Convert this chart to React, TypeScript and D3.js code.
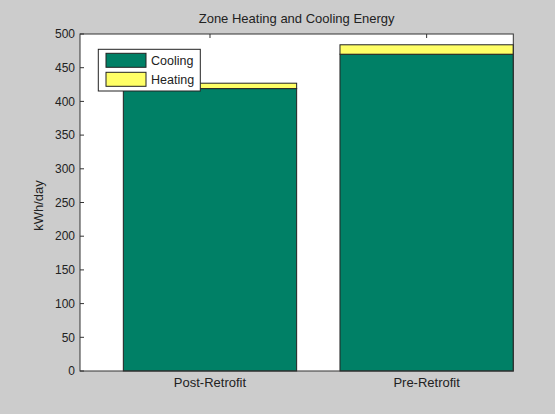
import React from "react";
import * as d3 from "d3";

const categories = ["Post-Retrofit", "Pre-Retrofit"];
const cooling = [419, 470];
const heating = [8, 14];
const seriesNames = ["Cooling", "Heating"];
const yTicks = [0, 50, 100, 150, 200, 250, 300, 350, 400, 450, 500];

const W = 555, H = 414;
const ml = 80, mr = 513.3, mt = 34, mb = 371;
const colors = ["#008066", "#ffff66"];
const font = "'Liberation Sans', Arial, sans-serif";

export default function App() {
  const x = d3.scaleLinear().domain([0.4, 2.4]).range([ml, mr]);
  const y = d3.scaleLinear().domain([0, 500]).range([mb, mt]);
  const stackData = categories.map((c, i) => ({ cat: c, Cooling: cooling[i], Heating: heating[i], idx: i + 1 }));
  const stack = d3.stack<any>().keys(seriesNames)(stackData);
  const bw = 0.8;
  const tickLen = 4;
  return (
    <svg width={W} height={H} style={{ position: "absolute", left: 0, top: 0 }} fontFamily={font}>
      <rect x={0} y={0} width={W} height={H} fill="#cccccc" />
      <rect x={ml} y={mt} width={mr - ml} height={mb - mt} fill="#ffffff" />
      {categories.map((c, i) => (
        <line key={c} x1={x(i + 1)} x2={x(i + 1)} y1={mt} y2={mt + tickLen} stroke="#333" />
      ))}
      {stack.map((s, si) =>
        s.map((d, i) => (
          <rect
            key={`${si}-${i}`}
            x={x(d.data.idx - bw / 2)}
            y={y(d[1])}
            width={x(d.data.idx + bw / 2) - x(d.data.idx - bw / 2)}
            height={y(d[0]) - y(d[1])}
            fill={colors[si]}
            stroke="#222"
            strokeWidth={1}
          />
        ))
      )}
      <rect x={ml} y={mt} width={mr - ml} height={mb - mt} fill="none" stroke="#333" strokeWidth={1} />
      {yTicks.map((t) => (
        <g key={t}>
          <line x1={ml} x2={ml + tickLen} y1={y(t)} y2={y(t)} stroke="#333" />
          <text x={ml - 5} y={y(t)} dy="0.35em" textAnchor="end" fontSize={12} fill="#222">{t}</text>
        </g>
      ))}
      {categories.map((c, i) => (
        <g key={c}>
          <text x={x(i + 1)} y={mb + 16} textAnchor="middle" fontSize={13} fill="#222">{c}</text>
        </g>
      ))}
      <text x={(ml + mr) / 2} y={23} textAnchor="middle" fontSize={13} fill="#222">Zone Heating and Cooling Energy</text>
      <text transform={`translate(43,${(mt + mb) / 2 + 3}) rotate(-90)`} textAnchor="middle" fontSize={13} fill="#222">kWh/day</text>
      <g>
        <rect x={98.3} y={49.3} width={102} height={41.7} fill="#fff" stroke="#222" />
        {seriesNames.map((n, i) => (
          <g key={n}>
            <rect x={106} y={53.3 + i * 19} width={40} height={14} fill={colors[i]} stroke="#222" />
            <text x={151} y={60.3 + i * 19} dy="0.35em" fontSize={12.5} fill="#222">{n}</text>
          </g>
        ))}
      </g>
    </svg>
  );
}
